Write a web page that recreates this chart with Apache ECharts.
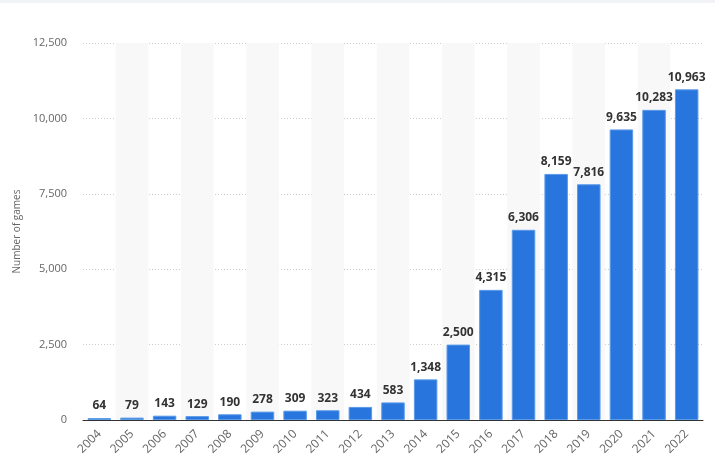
<!DOCTYPE html>
<html>
<head>
<meta charset="utf-8">
<script src="https://cdn.jsdelivr.net/npm/echarts@6/dist/echarts.min.js"></script>
<style>
html,body{margin:0;padding:0;background:#fff;}
#c{width:715px;height:474px;}
</style>
</head>
<body>
<div id="c"></div>
<script>
const categories = ['2004','2005','2006','2007','2008','2009','2010','2011','2012','2013','2014','2015','2016','2017','2018','2019','2020','2021','2022'];
const games = [64,79,143,129,190,278,309,323,434,583,1348,2500,4315,6306,8159,7816,9635,10283,10963];
const yAxisName = 'Number of games';

const chart = echarts.init(document.getElementById('c'), null, {renderer:'canvas'});
chart.setOption({
  animation:false,
  backgroundColor:'#ffffff',
  graphic:[{type:'rect', left:0, top:0, shape:{width:715,height:3}, style:{fill:'#f1f3f6'}, silent:true}],
  grid:{left:83, right:12, top:43, bottom:54},
  xAxis:{
    type:'category',
    data:categories,
    axisLine:{lineStyle:{color:'#333',width:1}},
    axisTick:{show:false},
    axisLabel:{rotate:45, color:'#666', fontSize:12, fontFamily:'Open Sans', margin:12},
    splitArea:{show:true, areaStyle:{color:['rgba(255,255,255,0)','#f8f8f8']}}
  },
  yAxis:{
    type:'value',
    min:0, max:12500, interval:2500,
    name:yAxisName,
    nameLocation:'middle',
    nameGap:57,
    nameTextStyle:{color:'#666', fontSize:10, fontFamily:'Open Sans'},
    axisLine:{show:false},
    axisTick:{show:false},
    axisLabel:{color:'#666', fontSize:11, fontFamily:'Open Sans', margin:16,
      formatter:v=>v.toLocaleString('en-US')},
    splitLine:{lineStyle:{color:'#cccccc', type:[1,2], width:1}}
  },
  series:[{
    type:'bar',
    data:games,
    barWidth:'72%',
    itemStyle:{color:'#2876dd', borderColor:'#5b9ae9', borderWidth:1},
    label:{show:true, position:'top', distance:6, color:'#333', fontWeight:'bold', fontSize:12, fontFamily:'Open Sans',
      formatter:p=>p.value.toLocaleString('en-US')}
  }]
});
</script>
</body>
</html>
